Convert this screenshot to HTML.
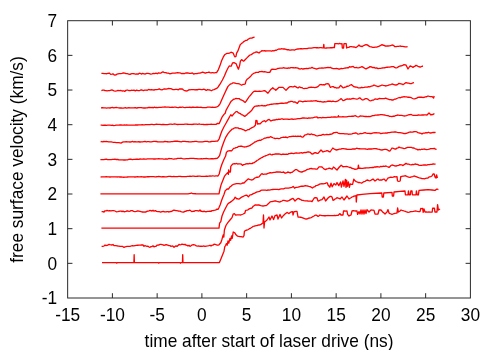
<!DOCTYPE html>
<html><head><meta charset="utf-8"><title>plot</title>
<style>
html,body{margin:0;padding:0;background:#fff;}
svg{display:block;}
text{font-family:"Liberation Sans",sans-serif;font-size:17.3px;fill:#000;}
.c{fill:none;stroke:#ff0000;stroke-width:1.3;stroke-linejoin:round;stroke-linecap:butt;}
.a{fill:none;stroke:#2a2a2a;stroke-width:1;}
</style></head>
<body>
<svg width="500" height="350" viewBox="0 0 500 350">
<rect width="500" height="350" fill="#fff"/>
<path class="c" d="M102.00,262.60 L116.40,262.60 L116.80,263.20 L117.20,262.60 L133.90,262.60 L134.15,254.70 L134.40,262.60 L158.40,262.60 L158.80,263.20 L159.20,262.60 L180.00,262.60 L180.40,263.20 L180.80,262.60 L182.45,262.60 L182.70,254.70 L182.95,262.60 L219.40,262.60 L220.80,259.20 L222.40,255.20 L224.00,251.20 L224.80,246.60 L225.60,245.60 L226.40,243.60 L227.20,245.20 L228.00,240.80 L228.80,243.20 L230.00,238.40 L230.60,240.40 L231.60,236.00 L232.20,238.40 L233.20,232.00 L234.80,232.80 L236.00,234.80 L237.60,236.20 L238.80,236.41 L240.00,236.60 L241.07,236.69 L242.13,236.88 L243.20,237.00 L244.00,235.60 L244.40,231.20 L245.80,230.36 L247.20,230.00 L248.40,229.52 L249.60,228.60 L250.80,228.04 L252.00,227.20 L253.00,226.40 L254.00,226.23 L255.00,226.00 L256.00,225.68 L257.00,225.60 L258.00,225.18 L259.00,225.00 L260.00,224.82 L261.00,224.40 L262.00,223.57 L263.00,223.00 L263.50,215.00 L264.00,228.00 L264.60,222.00 L265.80,221.09 L267.00,220.00 L269.00,217.00 L270.00,220.00 L272.00,216.00 L273.60,219.60 L275.00,215.60 L276.00,215.27 L277.00,215.00 L278.00,219.00 L280.00,214.40 L281.60,218.00 L283.00,216.00 L285.00,214.00 L286.00,213.18 L287.00,212.40 L288.00,212.98 L289.00,213.60 L290.00,212.61 L291.00,212.00 L292.60,211.60 L293.00,215.00 L294.00,211.60 L295.00,211.70 L296.00,211.38 L297.00,211.40 L298.00,217.00 L299.33,217.09 L300.67,217.24 L302.00,217.60 L303.33,218.12 L304.67,218.66 L306.00,219.00 L307.33,218.88 L308.67,218.17 L310.00,218.00 L311.33,217.58 L312.67,216.70 L314.00,216.00 L315.00,215.42 L316.00,215.00 L317.00,215.61 L318.00,216.40 L319.00,215.86 L320.00,215.00 L321.00,215.47 L322.00,215.60 L323.14,215.60 L324.29,215.76 L325.43,215.74 L326.57,215.67 L327.71,215.52 L328.86,215.66 L330.00,215.60 L331.14,215.59 L332.29,215.57 L333.43,215.63 L334.57,215.37 L335.71,215.61 L336.86,215.43 L338.00,215.40 L340.00,213.60 L341.00,215.00 L342.00,215.01 L343.00,215.00 L343.50,211.00 L344.67,210.92 L345.83,211.21 L347.00,211.00 L347.60,214.40 L349.00,216.00 L350.00,215.40 L351.00,215.00 L352.00,211.00 L353.25,210.65 L354.50,210.91 L355.75,211.01 L357.00,211.00 L357.60,214.40 L359.00,211.60 L360.00,214.00 L361.00,210.00 L362.00,214.00 L363.00,210.00 L364.00,214.00 L365.00,210.00 L366.00,213.60 L367.00,209.60 L369.00,212.00 L371.00,210.00 L372.00,210.17 L373.00,210.21 L374.00,210.40 L375.00,214.00 L376.00,214.06 L377.00,214.06 L378.00,214.00 L379.00,210.00 L380.00,209.98 L381.00,210.00 L383.00,212.40 L384.00,213.06 L385.00,214.00 L387.00,212.00 L388.00,209.60 L389.00,213.00 L390.00,213.66 L391.00,213.98 L392.00,214.40 L393.00,214.01 L394.00,213.60 L395.00,213.29 L396.00,213.19 L397.00,213.00 L397.60,208.00 L398.40,212.00 L399.70,211.18 L401.00,210.00 L402.00,210.36 L403.00,210.69 L404.00,211.00 L405.33,211.43 L406.67,211.98 L408.00,212.40 L409.33,212.18 L410.67,211.69 L412.00,211.60 L413.33,211.43 L414.67,211.18 L416.00,211.00 L417.33,211.42 L418.67,211.61 L420.00,211.60 L420.80,208.40 L421.70,208.55 L422.60,208.40 L423.20,212.40 L424.00,209.00 L425.00,212.00 L426.33,212.01 L427.67,212.06 L429.00,212.00 L430.07,212.05 L431.13,212.15 L432.20,212.00 L432.60,208.20 L433.50,208.25 L434.40,208.20 L434.90,212.00 L435.95,211.96 L437.00,212.00 L437.60,204.60 L438.40,210.00 L440.00,209.00"/>
<path class="c" d="M101.60,246.40 L102.80,246.40 L104.00,246.00 L105.00,245.04 L106.00,245.60 L107.00,245.24 L108.00,245.03 L109.00,244.40 L110.00,244.70 L111.00,244.81 L112.00,245.00 L113.00,244.46 L114.00,245.57 L115.00,245.60 L116.00,245.68 L117.00,245.89 L118.00,246.00 L119.00,246.08 L120.00,246.34 L121.00,246.40 L122.33,246.32 L123.67,247.29 L125.00,247.00 L126.00,246.52 L127.00,246.37 L128.00,246.40 L129.00,246.31 L130.00,246.44 L131.00,246.00 L132.33,245.61 L133.67,245.82 L135.00,245.60 L136.33,245.43 L137.67,245.23 L139.00,245.20 L140.33,245.18 L141.67,244.91 L143.00,245.00 L144.00,246.32 L145.00,245.60 L146.00,246.00 L147.00,246.44 L148.00,246.22 L149.00,247.00 L150.00,247.31 L151.00,246.59 L152.00,246.60 L153.00,245.81 L154.00,246.82 L155.00,246.40 L156.00,246.32 L157.00,245.23 L158.00,245.20 L159.00,245.00 L160.00,244.40 L161.00,244.38 L162.00,244.56 L163.00,244.80 L164.00,245.40 L165.00,245.00 L166.33,244.64 L167.67,245.11 L169.00,245.60 L170.00,245.55 L171.00,246.38 L172.00,246.00 L173.00,246.24 L174.00,247.26 L175.00,246.40 L176.00,245.84 L177.00,246.43 L178.00,245.60 L179.00,244.39 L180.00,244.84 L181.00,244.60 L182.00,244.17 L183.00,244.40 L184.00,244.69 L185.00,244.28 L186.00,245.20 L187.00,245.25 L188.00,246.00 L189.00,245.31 L190.00,246.36 L191.00,245.80 L192.33,244.78 L193.67,244.56 L195.00,245.00 L196.33,245.84 L197.67,246.22 L199.00,246.00 L200.00,246.46 L201.00,246.04 L202.00,246.40 L203.00,246.14 L204.00,246.02 L205.00,246.40 L206.33,246.05 L207.67,245.94 L209.00,245.60 L210.00,245.25 L211.00,246.00 L212.00,245.21 L213.00,245.20 L214.00,244.16 L215.00,244.40 L216.00,244.72 L217.00,245.00 L218.00,245.06 L219.00,244.80 L220.80,242.80 L222.00,239.20 L223.20,234.80 L223.80,237.20 L224.40,230.00 L225.40,227.00 L226.20,225.00 L228.00,222.40 L230.00,220.00 L232.00,217.60 L233.20,214.00 L234.40,213.60 L235.60,215.20 L237.00,214.84 L238.40,214.80 L239.60,214.88 L240.80,215.00 L242.00,214.51 L243.20,214.00 L244.80,213.20 L245.60,210.40 L246.80,210.18 L248.00,209.80 L249.20,208.89 L250.40,208.40 L252.00,208.00 L253.00,206.40 L254.00,205.72 L255.00,205.00 L256.00,204.93 L257.00,205.20 L258.00,204.94 L259.00,205.00 L260.00,205.26 L261.00,205.60 L262.00,205.82 L263.00,206.00 L264.00,205.84 L265.00,205.60 L266.00,205.56 L267.00,205.00 L268.50,203.60 L270.00,202.00 L271.00,201.63 L272.00,201.69 L273.00,201.40 L274.00,201.15 L275.00,200.91 L276.00,201.00 L277.00,201.39 L278.00,201.60 L279.00,201.94 L280.00,202.00 L281.00,201.30 L282.00,201.00 L283.00,200.41 L284.00,200.40 L285.00,200.54 L286.00,200.80 L287.00,201.22 L288.00,201.00 L289.25,200.41 L290.50,199.60 L291.75,198.85 L293.00,198.40 L295.00,201.00 L296.50,199.60 L298.00,198.40 L299.00,198.59 L300.00,199.40 L301.00,199.73 L302.00,200.40 L303.00,200.42 L304.00,200.71 L305.00,200.80 L306.00,200.89 L307.00,200.87 L308.00,201.00 L309.00,201.06 L310.00,201.20 L311.00,201.19 L312.00,201.60 L314.20,198.00 L315.60,197.72 L317.00,198.00 L318.00,201.00 L319.00,200.82 L320.00,200.20 L321.00,199.83 L322.00,199.60 L324.00,197.00 L325.60,201.00 L328.00,198.00 L329.00,197.14 L330.00,196.40 L331.00,196.38 L332.00,197.00 L333.00,200.40 L334.00,199.89 L335.00,199.00 L336.00,198.54 L337.00,197.60 L338.00,198.21 L339.00,198.28 L340.00,199.00 L342.00,197.00 L344.00,200.00 L347.00,196.00 L349.00,199.00 L350.00,198.25 L351.00,197.72 L352.00,197.00 L353.00,196.64 L354.00,196.18 L355.00,196.00 L356.00,195.60 L356.30,202.00 L356.90,195.00 L362.00,194.40 L370.00,193.60 L381.80,193.00 L382.20,197.00 L383.40,197.00 L383.80,193.00 L392.00,192.40 L392.30,196.00 L393.60,196.00 L394.00,192.00 L400.00,191.40 L405.00,191.00 L405.40,194.80 L408.00,194.80 L408.40,191.00 L409.20,194.80 L410.40,194.80 L410.80,191.00 L412.00,190.90 L412.40,194.80 L416.00,194.80 L416.40,190.80 L417.20,194.80 L418.40,194.80 L419.00,190.40 L424.00,190.00 L428.00,189.60 L432.00,190.00 L435.00,190.40 L437.00,189.00 L438.40,189.60"/>
<path class="c" d="M101.40,228.10 L219.00,228.10 L219.60,223.20 L220.80,221.60 L222.00,216.00 L223.60,212.00 L225.60,208.00 L227.60,204.20 L228.80,203.09 L230.00,202.40 L231.10,201.60 L232.20,200.80 L233.10,199.96 L234.00,199.20 L235.20,197.20 L236.80,198.80 L237.80,198.76 L238.80,199.20 L240.20,198.15 L241.60,197.20 L242.80,196.61 L244.00,196.00 L245.40,195.47 L246.80,195.20 L248.40,196.80 L250.00,194.80 L251.00,194.82 L252.00,194.40 L253.33,193.64 L254.67,193.10 L256.00,192.40 L257.20,191.90 L258.40,191.71 L259.60,191.37 L260.80,190.44 L262.00,190.20 L263.20,190.21 L264.40,190.09 L265.60,190.12 L266.80,190.31 L268.00,190.00 L269.20,190.03 L270.40,189.82 L271.60,189.63 L272.80,189.52 L274.00,189.40 L275.20,189.32 L276.40,189.35 L277.60,189.31 L278.80,189.71 L280.00,189.20 L281.20,188.87 L282.40,188.91 L283.60,188.97 L284.80,188.17 L286.00,188.20 L287.20,188.04 L288.40,188.13 L289.60,187.87 L290.80,187.60 L292.00,187.35 L293.20,186.40 L294.60,188.20 L295.70,187.44 L296.80,187.40 L298.00,187.21 L299.20,186.80 L300.40,186.38 L301.60,186.20 L302.80,186.24 L304.00,186.07 L305.20,185.60 L306.40,185.95 L307.60,186.00 L308.80,186.44 L310.00,186.60 L311.20,187.18 L312.40,188.00 L313.60,187.03 L314.80,186.66 L316.00,185.60 L317.20,185.31 L318.40,184.91 L319.60,184.16 L320.80,183.80 L322.00,183.77 L323.20,183.88 L324.40,183.60 L325.40,183.42 L326.40,182.80 L327.40,182.80 L328.00,185.00 L329.80,187.20 L331.00,183.20 L332.20,186.80 L334.00,183.60 L334.90,184.30 L335.80,185.00 L337.00,182.60 L338.80,185.60 L340.60,182.00 L341.40,187.20 L343.00,180.80 L344.00,186.40 L345.40,179.40 L346.00,187.40 L346.60,180.20 L347.40,186.40 L348.40,182.00 L349.40,187.40 L350.20,183.80 L351.40,184.32 L352.60,184.40 L353.80,179.20 L355.00,180.80 L356.20,181.60 L357.20,181.96 L358.20,182.48 L359.20,182.40 L360.40,182.75 L361.60,183.20 L362.80,182.25 L364.00,181.60 L365.20,181.37 L366.40,180.31 L367.60,180.00 L368.80,180.57 L370.00,180.80 L371.00,180.21 L372.00,179.61 L373.00,179.00 L375.00,181.00 L376.00,180.27 L377.00,179.43 L378.00,179.00 L379.33,180.17 L380.67,179.93 L382.00,180.00 L383.00,179.39 L384.00,179.00 L386.00,181.00 L388.00,178.00 L389.33,177.68 L390.67,177.20 L392.00,177.40 L393.25,177.19 L394.50,176.66 L395.75,176.84 L397.00,176.60 L397.50,181.00 L398.85,181.39 L400.20,181.00 L400.70,176.60 L401.76,176.50 L402.82,176.17 L403.88,176.15 L404.94,175.74 L406.00,176.00 L407.33,176.70 L408.67,177.11 L410.00,177.40 L411.33,176.87 L412.67,176.56 L414.00,176.00 L415.33,176.29 L416.67,176.86 L418.00,177.40 L419.33,177.78 L420.67,178.03 L422.00,178.60 L423.20,178.67 L424.40,178.81 L425.60,178.40 L426.80,178.15 L428.00,178.00 L429.33,176.86 L430.67,176.53 L432.00,176.00 L433.00,174.00 L434.20,174.00 L435.00,177.00 L436.00,178.00 L436.60,175.00 L437.40,178.00"/>
<path class="c" d="M101.60,211.60 L102.80,211.69 L104.00,212.00 L105.00,210.78 L106.00,210.95 L107.00,210.40 L108.33,210.88 L109.67,210.66 L111.00,210.80 L112.33,210.60 L113.67,210.53 L115.00,211.00 L116.33,211.79 L117.67,211.62 L119.00,211.40 L120.00,211.22 L121.00,211.02 L122.00,211.60 L123.00,211.08 L124.00,211.83 L125.00,211.60 L126.00,211.42 L127.00,210.93 L128.00,211.00 L129.00,211.48 L130.00,211.06 L131.00,210.60 L132.33,210.66 L133.67,211.29 L135.00,211.60 L136.33,211.41 L137.67,210.96 L139.00,211.20 L140.00,211.38 L141.00,211.65 L142.00,212.00 L143.00,211.86 L144.00,212.05 L145.00,212.00 L146.00,212.01 L147.00,211.27 L148.00,211.20 L149.00,210.83 L150.00,210.42 L151.00,210.60 L152.00,211.05 L153.00,210.27 L154.00,211.20 L155.33,210.69 L156.67,211.44 L158.00,211.60 L159.33,211.68 L160.67,212.03 L162.00,211.60 L163.33,211.44 L164.67,211.96 L166.00,211.80 L167.00,211.56 L168.00,211.73 L169.00,212.00 L170.00,211.57 L171.00,211.52 L172.00,211.20 L173.00,210.43 L174.00,210.21 L175.00,210.40 L176.00,210.70 L177.00,210.64 L178.00,211.00 L179.00,211.18 L180.00,211.17 L181.00,211.60 L182.00,211.96 L183.00,212.17 L184.00,212.00 L185.00,211.25 L186.00,211.31 L187.00,210.60 L188.00,210.64 L189.00,210.49 L190.00,210.20 L191.00,211.00 L192.00,211.60 L193.00,211.24 L194.00,211.40 L195.00,210.72 L196.00,210.60 L197.00,210.56 L198.00,210.79 L199.00,211.00 L200.00,209.92 L201.00,211.24 L202.00,211.20 L203.00,211.76 L204.00,211.14 L205.00,211.60 L206.33,211.74 L207.67,211.39 L209.00,211.40 L210.00,211.10 L211.00,211.44 L212.00,210.60 L213.00,210.58 L214.00,210.29 L215.00,210.20 L216.00,209.87 L217.00,209.10 L218.00,209.40 L218.80,208.00 L220.20,204.80 L221.40,201.00 L222.80,197.20 L224.00,194.40 L225.20,190.80 L226.40,189.60 L227.40,188.87 L228.40,189.20 L230.00,186.80 L231.00,186.29 L232.00,185.20 L233.20,184.44 L234.40,184.20 L235.47,183.78 L236.53,183.66 L237.60,183.60 L238.93,183.59 L240.27,183.80 L241.60,183.60 L242.80,182.93 L244.00,183.00 L246.20,180.80 L248.40,178.80 L249.40,179.28 L250.40,179.60 L252.00,180.00 L253.40,179.31 L254.80,178.00 L255.85,177.59 L256.90,177.07 L257.95,177.25 L259.00,176.80 L261.40,173.80 L262.30,173.70 L263.20,174.40 L264.40,174.12 L265.60,174.20 L266.80,173.99 L268.00,173.38 L269.20,173.00 L270.40,172.73 L271.60,172.83 L272.80,172.57 L274.00,172.40 L275.20,172.38 L276.40,171.99 L277.60,172.00 L278.80,172.02 L280.00,171.80 L281.20,172.29 L282.40,172.33 L283.60,172.00 L284.80,173.10 L286.00,173.00 L286.90,172.70 L287.80,172.00 L289.00,172.34 L290.20,173.00 L291.20,172.41 L292.20,172.39 L293.20,171.40 L294.40,170.55 L295.60,169.60 L296.80,169.69 L298.00,170.60 L299.20,171.41 L300.40,171.90 L301.60,172.00 L302.80,171.74 L304.00,170.99 L305.20,170.80 L306.40,169.91 L307.60,169.35 L308.80,169.17 L310.00,168.60 L311.20,168.50 L312.40,168.76 L313.60,168.92 L314.80,168.80 L316.00,169.18 L317.20,169.20 L319.00,166.80 L320.00,166.86 L321.00,166.89 L322.00,167.00 L323.20,168.15 L324.40,169.14 L325.60,169.60 L326.80,168.86 L328.00,168.61 L329.20,168.20 L330.20,168.44 L331.20,168.79 L332.20,169.20 L333.40,167.00 L334.60,167.80 L335.80,169.08 L337.00,170.00 L339.40,167.00 L341.20,165.20 L342.10,165.95 L343.00,166.80 L344.08,166.59 L345.16,166.61 L346.24,166.51 L347.32,166.57 L348.40,167.00 L349.60,167.50 L350.80,167.42 L352.00,168.40 L353.00,168.51 L354.00,168.90 L355.00,169.40 L356.00,169.09 L357.00,169.08 L358.00,168.40 L358.40,165.20 L358.90,168.40 L360.17,168.24 L361.45,168.43 L362.73,168.41 L364.00,168.20 L365.20,168.01 L366.40,167.96 L367.60,167.86 L368.80,167.82 L370.00,167.60 L371.20,167.55 L372.40,167.42 L373.60,167.50 L374.80,166.79 L376.00,167.00 L377.20,166.72 L378.40,166.84 L379.60,167.04 L380.80,166.43 L382.00,166.60 L383.33,166.21 L384.67,166.28 L386.00,166.00 L387.00,166.50 L388.00,166.93 L389.00,167.40 L390.00,166.48 L391.00,165.54 L392.00,165.00 L393.33,165.28 L394.67,165.93 L396.00,166.00 L397.33,165.65 L398.67,165.39 L400.00,164.60 L401.00,164.78 L402.00,164.97 L403.00,165.60 L404.00,164.82 L405.00,164.10 L406.00,163.40 L407.33,164.17 L408.67,164.22 L410.00,164.60 L411.25,164.78 L412.50,164.29 L413.75,164.59 L415.00,164.00 L416.25,164.24 L417.50,164.43 L418.75,165.17 L420.00,165.40 L421.33,165.32 L422.67,165.12 L424.00,165.00 L425.33,164.96 L426.67,165.13 L428.00,164.60 L429.33,164.64 L430.67,164.45 L432.00,164.40 L433.20,163.82 L434.40,164.09 L435.60,164.20"/>
<path class="c" d="M100.40,193.85 L188.00,193.85 L190.60,193.45 L191.40,192.95 L192.40,193.55 L196.00,193.75 L219.00,193.85 L220.00,189.00 L221.20,184.40 L222.80,180.40 L224.40,176.40 L226.00,174.40 L227.60,172.80 L228.40,174.40 L228.60,170.00 L229.20,172.00 L230.40,172.00 L230.80,166.40 L232.00,164.80 L233.20,163.77 L234.40,163.60 L235.47,163.78 L236.53,163.47 L237.60,164.00 L238.80,163.80 L240.00,163.80 L241.20,164.02 L242.40,165.40 L243.60,164.61 L244.80,164.40 L246.00,163.82 L247.20,163.60 L248.40,163.83 L249.60,163.34 L250.80,163.62 L252.00,163.60 L253.00,162.90 L254.00,162.86 L255.00,162.00 L256.00,161.44 L257.00,160.39 L258.00,160.00 L259.00,159.28 L260.00,158.64 L261.00,158.00 L262.33,157.36 L263.67,156.49 L265.00,156.00 L266.00,155.72 L267.00,155.28 L268.00,154.80 L269.00,154.37 L270.00,154.00 L271.00,154.60 L272.00,155.00 L273.00,154.27 L274.00,154.40 L275.00,154.00 L276.25,153.88 L277.50,153.99 L278.75,153.91 L280.00,154.20 L281.25,154.55 L282.50,154.24 L283.75,154.11 L285.00,154.40 L286.25,154.15 L287.50,154.46 L288.75,153.60 L290.00,153.60 L291.25,153.17 L292.50,153.36 L293.75,153.57 L295.00,153.20 L296.25,152.98 L297.50,153.15 L298.75,153.15 L300.00,153.00 L301.25,152.60 L302.50,153.08 L303.75,152.54 L305.00,152.40 L306.00,152.54 L307.00,152.16 L308.00,152.00 L309.00,152.02 L310.00,152.20 L312.00,154.00 L313.00,153.88 L314.00,153.12 L315.00,152.60 L316.00,152.75 L317.00,153.35 L318.00,153.40 L321.00,150.00 L323.00,152.00 L324.33,151.42 L325.67,151.21 L327.00,150.60 L328.00,150.82 L329.00,151.68 L330.00,152.00 L332.80,148.00 L333.87,148.87 L334.93,149.28 L336.00,150.00 L337.20,149.74 L338.40,149.49 L339.60,149.21 L340.80,149.06 L342.00,148.60 L343.33,148.60 L344.67,148.93 L346.00,149.00 L347.33,149.30 L348.67,149.29 L350.00,149.40 L351.33,149.43 L352.67,148.98 L354.00,149.00 L355.33,149.02 L356.67,148.23 L358.00,148.60 L359.33,148.73 L360.67,148.94 L362.00,148.80 L363.33,148.91 L364.67,148.94 L366.00,149.00 L367.33,149.47 L368.67,148.91 L370.00,149.00 L371.33,148.98 L372.67,148.82 L374.00,148.60 L375.33,148.70 L376.67,148.76 L378.00,149.20 L379.33,149.29 L380.67,149.92 L382.00,150.00 L383.33,149.72 L384.67,149.47 L386.00,149.40 L387.33,149.79 L388.67,150.84 L390.00,151.00 L392.00,148.00 L393.33,148.45 L394.67,149.01 L396.00,149.00 L397.00,148.05 L398.00,147.93 L399.00,147.00 L400.25,147.63 L401.50,147.86 L402.75,148.21 L404.00,148.60 L405.20,148.32 L406.40,147.83 L407.60,147.43 L408.80,147.31 L410.00,147.40 L411.33,147.40 L412.67,148.00 L414.00,148.00 L415.33,148.77 L416.67,149.13 L418.00,150.00 L419.20,149.43 L420.40,149.77 L421.60,149.26 L422.80,149.47 L424.00,149.00 L425.33,149.27 L426.67,149.55 L428.00,149.40 L429.33,149.21 L430.67,148.71 L432.00,148.60 L433.15,148.70 L434.30,148.41 L435.45,149.12 L436.60,149.40"/>
<path class="c" d="M100.60,177.00 L101.70,176.96 L102.80,176.79 L103.90,176.83 L105.00,176.80 L106.25,176.65 L107.50,176.85 L108.75,176.95 L110.00,177.00 L111.25,176.93 L112.50,176.96 L113.75,176.91 L115.00,176.80 L116.25,176.83 L117.50,176.98 L118.75,176.78 L120.00,177.00 L121.25,176.98 L122.50,177.03 L123.75,177.24 L125.00,177.20 L126.25,177.12 L127.50,177.01 L128.75,176.94 L130.00,176.80 L131.25,176.81 L132.50,176.85 L133.75,176.89 L135.00,177.00 L136.25,176.97 L137.50,176.68 L138.75,176.90 L140.00,176.80 L141.25,176.73 L142.50,176.88 L143.75,176.98 L145.00,177.00 L146.25,176.87 L147.50,176.67 L148.75,176.76 L150.00,176.60 L151.25,176.54 L152.50,176.67 L153.75,176.72 L155.00,176.80 L156.25,176.75 L157.50,176.65 L158.75,176.50 L160.00,176.60 L161.25,176.82 L162.50,176.74 L163.75,176.66 L165.00,176.80 L166.25,176.78 L167.50,176.54 L168.75,176.30 L170.00,176.40 L171.25,176.51 L172.50,176.58 L173.75,176.44 L175.00,176.60 L176.25,176.54 L177.50,176.56 L178.75,176.37 L180.00,176.40 L181.25,176.50 L182.50,176.57 L183.75,176.53 L185.00,176.60 L186.25,176.56 L187.50,176.42 L188.75,176.31 L190.00,176.20 L191.25,176.36 L192.50,176.14 L193.75,176.12 L195.00,176.40 L196.25,176.42 L197.50,176.27 L198.75,176.21 L200.00,176.20 L201.25,176.28 L202.50,176.33 L203.75,176.32 L205.00,176.40 L206.25,176.15 L207.50,176.27 L208.75,176.11 L210.00,176.00 L211.17,176.08 L212.33,175.84 L213.50,175.96 L214.67,176.04 L215.83,175.89 L217.00,175.80 L218.00,176.00 L219.20,174.00 L220.40,168.80 L222.00,164.00 L224.00,159.20 L225.60,156.00 L226.40,152.40 L227.60,151.20 L228.80,150.82 L230.00,150.60 L231.60,150.80 L233.60,148.40 L234.80,148.12 L236.00,147.60 L237.20,147.46 L238.40,146.40 L239.47,146.37 L240.53,146.26 L241.60,146.20 L242.80,146.61 L244.00,147.00 L245.07,146.86 L246.13,146.83 L247.20,146.40 L248.40,146.01 L249.60,145.60 L250.00,145.60 L251.20,144.53 L252.40,143.84 L253.60,142.96 L254.80,142.00 L256.00,141.67 L257.20,140.98 L258.40,140.57 L259.60,140.20 L260.80,140.37 L262.00,139.38 L263.20,139.00 L264.40,138.19 L265.60,138.06 L266.80,137.60 L268.00,137.44 L269.20,137.52 L270.40,136.71 L271.60,137.20 L272.80,137.75 L274.00,138.13 L275.20,138.60 L276.40,138.28 L277.60,138.31 L278.80,138.60 L280.00,138.26 L281.20,137.61 L282.40,137.40 L283.60,137.14 L284.80,137.29 L286.00,137.00 L287.20,137.80 L288.40,137.00 L289.60,136.60 L290.80,136.51 L292.00,136.30 L293.20,136.21 L294.40,136.33 L295.60,136.10 L296.80,136.50 L298.00,136.20 L299.20,136.37 L300.40,136.01 L301.60,136.86 L302.80,137.20 L305.20,134.80 L306.40,134.54 L307.60,134.00 L308.80,134.07 L310.00,134.60 L311.20,133.96 L312.40,134.49 L313.60,134.60 L314.80,134.98 L316.00,135.62 L317.20,136.00 L318.40,135.65 L319.60,135.46 L320.80,135.37 L322.00,134.80 L323.20,134.33 L324.40,134.78 L325.60,134.72 L326.80,134.31 L328.00,134.60 L329.20,134.50 L330.40,134.23 L331.60,134.20 L332.80,133.36 L334.00,132.60 L335.00,132.70 L336.00,132.35 L337.00,132.40 L338.00,133.01 L339.00,133.26 L340.00,133.60 L341.20,133.56 L342.40,133.71 L343.60,133.61 L344.80,133.87 L346.00,133.80 L347.20,133.85 L348.40,134.25 L349.60,134.20 L350.80,134.03 L352.00,133.84 L353.20,133.40 L354.20,133.27 L355.20,132.99 L356.20,133.00 L357.10,133.53 L358.00,134.20 L359.20,133.97 L360.40,133.51 L361.60,133.60 L362.80,133.28 L364.00,132.91 L365.20,132.60 L366.40,133.02 L367.60,133.40 L368.80,133.41 L370.00,133.50 L371.20,133.57 L372.40,133.07 L373.60,132.88 L374.80,132.77 L376.00,132.60 L377.20,132.84 L378.40,132.91 L379.60,132.95 L380.80,133.62 L382.00,133.40 L383.33,133.14 L384.67,133.07 L386.00,133.00 L387.00,133.14 L388.00,132.60 L389.33,132.70 L390.67,132.41 L392.00,132.20 L393.33,132.16 L394.67,131.82 L396.00,132.00 L397.33,132.39 L398.67,132.65 L400.00,132.60 L401.33,132.83 L402.67,133.15 L404.00,133.60 L405.20,133.52 L406.40,133.26 L407.60,132.96 L408.80,132.38 L410.00,132.00 L411.20,132.07 L412.40,132.16 L413.60,131.76 L414.80,131.53 L416.00,131.60 L417.00,131.99 L418.00,132.64 L419.00,133.00 L420.00,133.10 L421.00,133.39 L422.00,134.00 L423.33,133.04 L424.67,133.18 L426.00,132.60 L427.20,132.79 L428.40,132.27 L429.60,132.82 L430.80,133.01 L432.00,132.60 L433.20,132.43 L434.40,132.51 L435.60,132.40"/>
<path class="c" d="M100.40,159.60 L101.55,159.55 L102.70,159.55 L103.85,159.61 L105.00,159.40 L106.25,159.22 L107.50,159.71 L108.75,159.62 L110.00,159.60 L111.25,159.57 L112.50,159.35 L113.75,159.37 L115.00,159.20 L116.25,159.52 L117.50,159.48 L118.75,159.75 L120.00,159.80 L121.25,159.86 L122.50,159.97 L123.75,160.01 L125.00,160.00 L126.25,159.88 L127.50,159.81 L128.75,159.49 L130.00,159.20 L131.25,159.27 L132.50,159.61 L133.75,159.47 L135.00,159.40 L136.25,159.25 L137.50,159.26 L138.75,159.33 L140.00,159.00 L141.25,159.14 L142.50,159.22 L143.75,158.94 L145.00,159.20 L146.25,159.20 L147.50,158.94 L148.75,158.94 L150.00,158.80 L151.25,158.96 L152.50,158.97 L153.75,159.01 L155.00,159.00 L156.25,158.91 L157.50,158.92 L158.75,158.53 L160.00,158.80 L161.25,158.95 L162.50,158.86 L163.75,159.07 L165.00,159.00 L166.25,158.87 L167.50,159.11 L168.75,158.46 L170.00,158.60 L171.25,158.61 L172.50,158.88 L173.75,159.08 L175.00,158.80 L176.25,158.80 L177.50,158.39 L178.75,158.31 L180.00,158.40 L181.25,158.24 L182.50,158.68 L183.75,158.92 L185.00,158.80 L186.25,158.63 L187.50,158.59 L188.75,158.63 L190.00,158.40 L191.25,158.47 L192.50,158.44 L193.75,158.37 L195.00,158.60 L196.25,158.66 L197.50,158.74 L198.75,158.79 L200.00,158.80 L201.25,158.62 L202.50,158.81 L203.75,158.56 L205.00,158.60 L206.25,158.48 L207.50,158.56 L208.75,158.90 L210.00,158.80 L211.17,158.75 L212.33,158.76 L213.50,158.77 L214.67,158.62 L215.83,158.48 L217.00,158.40 L218.40,157.20 L219.60,155.60 L220.80,151.20 L222.00,147.00 L223.80,142.00 L225.00,139.00 L226.00,136.80 L228.00,133.60 L230.00,131.20 L232.00,129.20 L233.00,128.90 L234.00,128.20 L235.40,127.75 L236.80,127.80 L238.00,127.89 L239.20,128.60 L240.60,128.69 L242.00,129.20 L243.07,129.72 L244.13,129.94 L245.20,130.80 L246.60,130.28 L248.00,129.60 L249.00,129.69 L250.00,128.80 L251.20,128.05 L252.40,127.43 L253.60,127.00 L255.40,125.20 L255.90,120.40 L257.00,120.60 L257.40,124.00 L258.80,123.76 L260.20,123.80 L262.60,121.40 L263.50,121.05 L264.40,120.60 L265.60,121.80 L266.80,120.84 L268.00,119.80 L269.20,119.40 L270.10,120.17 L271.00,121.00 L272.00,120.49 L273.00,120.25 L274.00,119.80 L275.20,120.00 L276.40,119.32 L277.60,119.64 L278.80,119.20 L280.00,119.48 L281.20,118.95 L282.40,118.92 L283.60,119.44 L284.80,119.11 L286.00,119.20 L287.20,119.12 L288.40,119.24 L289.60,119.31 L290.80,119.08 L292.00,119.00 L293.20,119.33 L294.40,119.10 L295.60,119.08 L296.80,118.78 L298.00,118.60 L299.20,118.61 L300.40,118.48 L301.60,118.25 L302.80,117.98 L304.00,118.00 L305.20,118.18 L306.40,118.11 L307.60,118.38 L308.80,117.89 L310.00,118.20 L311.33,117.98 L312.67,117.78 L314.00,117.40 L315.00,117.06 L316.00,117.11 L317.00,117.00 L318.00,118.00 L319.20,117.62 L320.40,117.60 L321.60,117.80 L322.80,117.48 L324.00,117.60 L325.20,117.61 L326.40,117.57 L327.60,117.47 L328.80,117.46 L330.00,117.40 L331.33,117.02 L332.67,117.10 L334.00,117.00 L335.33,116.93 L336.67,117.12 L338.00,116.80 L338.40,115.70 L338.80,116.90 L339.84,116.78 L340.88,116.94 L341.92,116.94 L342.96,116.71 L344.00,116.80 L345.20,116.97 L346.40,116.81 L347.60,116.54 L348.80,116.43 L350.00,116.40 L351.00,116.41 L352.00,116.20 L353.20,116.26 L354.40,115.87 L355.60,115.70 L356.80,116.52 L358.00,117.00 L359.20,116.54 L360.40,115.90 L361.60,116.10 L362.80,116.06 L364.00,116.40 L365.20,116.49 L366.40,116.36 L367.60,116.55 L368.80,116.46 L370.00,116.60 L371.33,116.16 L372.67,115.71 L374.00,115.60 L375.33,115.15 L376.67,115.22 L378.00,115.00 L379.33,114.84 L380.67,114.59 L382.00,114.60 L383.33,114.83 L384.67,115.00 L386.00,115.40 L387.20,115.69 L388.40,115.77 L389.60,116.31 L390.80,116.32 L392.00,116.60 L393.20,116.19 L394.40,116.25 L395.60,115.68 L396.80,115.34 L398.00,115.00 L399.20,115.35 L400.40,115.31 L401.60,115.33 L402.80,115.61 L404.00,116.00 L405.20,115.80 L406.40,115.61 L407.60,115.22 L408.80,114.75 L410.00,114.60 L411.20,114.50 L412.40,115.04 L413.60,115.33 L414.80,115.29 L416.00,115.40 L417.20,115.37 L418.40,114.86 L419.60,115.19 L420.80,115.05 L422.00,115.00 L423.25,114.99 L424.50,114.82 L425.75,114.85 L427.00,115.00 L429.00,113.00 L431.00,115.00 L432.00,114.44 L433.00,114.60 L434.40,113.40"/>
<path class="c" d="M100.60,142.00 L101.70,141.50 L102.80,141.91 L103.90,141.41 L105.00,141.60 L106.25,141.52 L107.50,141.60 L108.75,141.97 L110.00,141.80 L111.25,141.79 L112.50,142.08 L113.75,142.34 L115.00,142.40 L116.25,142.61 L117.50,142.56 L118.75,142.62 L120.00,142.80 L121.25,143.03 L122.50,142.11 L123.75,141.90 L125.00,141.80 L126.25,141.70 L127.50,141.95 L128.75,141.96 L130.00,142.00 L131.25,141.85 L132.50,141.35 L133.75,141.98 L135.00,141.60 L136.25,141.84 L137.50,141.91 L138.75,141.75 L140.00,142.00 L141.25,141.84 L142.50,141.80 L143.75,141.57 L145.00,141.40 L146.25,141.86 L147.50,141.71 L148.75,141.63 L150.00,141.80 L151.25,141.90 L152.50,141.62 L153.75,141.39 L155.00,141.40 L156.25,141.48 L157.50,141.75 L158.75,141.94 L160.00,141.80 L161.25,141.95 L162.50,141.81 L163.75,141.75 L165.00,141.40 L166.25,141.57 L167.50,141.76 L168.75,141.93 L170.00,141.80 L171.25,141.61 L172.50,141.56 L173.75,141.34 L175.00,141.20 L176.25,141.24 L177.50,141.14 L178.75,141.50 L180.00,141.60 L181.25,141.77 L182.50,141.43 L183.75,141.33 L185.00,141.40 L186.25,141.53 L187.50,141.58 L188.75,141.73 L190.00,141.80 L191.25,141.84 L192.50,141.53 L193.75,141.67 L195.00,141.40 L196.25,141.39 L197.50,141.60 L198.75,141.78 L200.00,141.80 L201.25,141.79 L202.50,141.80 L203.75,141.57 L205.00,141.40 L206.25,141.42 L207.50,141.42 L208.75,141.86 L210.00,141.80 L211.20,141.50 L212.40,141.47 L213.60,141.47 L214.80,141.29 L216.00,141.20 L217.60,141.20 L219.20,138.80 L220.80,134.00 L222.00,130.80 L224.00,126.80 L226.00,123.20 L228.00,119.60 L230.00,116.00 L230.80,114.80 L232.00,116.00 L234.00,113.60 L236.00,111.60 L237.07,111.58 L238.13,112.60 L239.20,113.20 L240.27,113.55 L241.33,114.56 L242.40,114.80 L243.60,115.66 L244.80,116.40 L246.00,115.37 L247.20,114.40 L248.40,113.18 L249.60,112.40 L250.00,112.00 L251.80,110.20 L253.60,107.40 L254.80,106.35 L256.00,106.00 L257.20,106.09 L258.40,105.55 L259.60,105.79 L260.80,105.65 L262.00,105.40 L263.20,105.92 L264.40,105.69 L265.60,105.80 L266.80,105.23 L268.00,104.80 L269.20,104.74 L270.40,104.44 L271.60,104.25 L272.80,104.06 L274.00,103.80 L275.20,103.80 L276.40,103.67 L277.60,103.76 L278.80,103.56 L280.00,103.40 L281.20,103.23 L282.40,103.27 L283.60,103.32 L284.80,103.13 L286.00,103.00 L287.20,103.01 L288.40,101.98 L289.60,101.89 L290.80,101.40 L292.00,101.28 L293.20,102.06 L294.40,101.80 L295.40,102.11 L296.40,102.96 L297.40,103.40 L299.00,101.20 L300.27,101.10 L301.53,101.47 L302.80,101.80 L304.00,101.41 L305.20,101.13 L306.40,101.40 L307.60,101.13 L308.80,101.16 L310.00,101.20 L311.20,100.91 L312.40,101.17 L313.60,100.85 L314.80,100.84 L316.00,100.60 L317.20,101.24 L318.40,101.40 L319.60,101.63 L320.80,101.51 L322.00,101.80 L323.20,102.14 L324.40,101.56 L325.60,101.80 L326.80,101.67 L328.00,101.03 L329.20,101.24 L330.40,101.20 L331.60,101.54 L332.80,101.11 L334.00,101.40 L335.20,101.64 L336.40,101.49 L337.60,101.20 L338.80,100.32 L340.00,99.56 L341.20,98.60 L343.00,100.60 L344.00,100.32 L345.00,99.84 L346.00,99.40 L347.20,98.96 L348.40,99.21 L349.60,98.94 L350.80,99.23 L352.00,98.60 L353.20,98.31 L354.40,98.64 L355.60,98.91 L356.80,99.08 L358.00,98.80 L358.90,98.21 L359.80,97.80 L360.80,98.74 L361.80,99.57 L362.80,100.00 L363.80,99.58 L364.80,98.97 L365.80,98.60 L366.70,98.54 L367.60,99.00 L368.80,100.03 L370.00,100.80 L371.20,100.61 L372.40,100.20 L373.60,100.13 L374.80,99.10 L376.00,99.00 L377.20,99.39 L378.40,98.80 L379.60,98.40 L380.80,98.53 L382.00,98.60 L383.20,98.59 L384.40,98.58 L385.60,98.22 L386.80,98.72 L388.00,99.00 L389.33,99.63 L390.67,99.69 L392.00,100.00 L393.20,100.00 L394.40,99.20 L395.60,99.15 L396.80,98.49 L398.00,98.00 L399.20,97.52 L400.40,97.74 L401.60,97.18 L402.80,97.00 L404.00,96.60 L405.20,96.96 L406.40,96.97 L407.60,97.23 L408.80,97.15 L410.00,97.40 L411.33,97.70 L412.67,98.50 L414.00,99.00 L415.33,98.52 L416.67,98.16 L418.00,97.40 L419.20,97.26 L420.40,97.26 L421.60,97.04 L422.80,97.52 L424.00,97.40 L425.33,96.90 L426.67,96.76 L428.00,96.00 L429.33,96.39 L430.67,96.59 L432.00,96.60 L433.60,98.00 L434.20,96.00"/>
<path class="c" d="M100.60,125.20 L101.77,125.17 L102.95,125.38 L104.12,125.10 L105.30,125.25 L106.47,125.39 L107.65,125.16 L108.83,125.20 L110.00,125.20 L111.25,125.31 L112.50,125.19 L113.75,125.53 L115.00,125.40 L116.25,125.11 L117.50,125.16 L118.75,125.11 L120.00,125.00 L121.11,125.02 L122.22,125.06 L123.33,125.06 L124.44,125.01 L125.56,125.17 L126.67,124.82 L127.78,125.21 L128.89,125.14 L130.00,125.20 L131.25,125.17 L132.50,125.20 L133.75,125.03 L135.00,125.00 L136.25,124.92 L137.50,125.02 L138.75,124.92 L140.00,124.80 L141.11,124.82 L142.22,124.57 L143.33,124.83 L144.44,124.83 L145.56,124.67 L146.67,124.66 L147.78,124.56 L148.89,124.72 L150.00,124.60 L151.11,124.40 L152.22,124.37 L153.33,124.62 L154.44,124.59 L155.56,124.40 L156.67,124.22 L157.78,124.33 L158.89,124.41 L160.00,124.40 L161.25,124.53 L162.50,124.52 L163.75,124.52 L165.00,124.60 L166.25,124.66 L167.50,124.54 L168.75,124.34 L170.00,124.20 L171.11,124.18 L172.22,124.37 L173.33,124.21 L174.44,124.01 L175.56,124.11 L176.67,124.29 L177.78,124.51 L178.89,124.39 L180.00,124.40 L181.25,124.34 L182.50,124.34 L183.75,124.37 L185.00,124.20 L186.25,124.17 L187.50,124.26 L188.75,124.39 L190.00,124.40 L191.11,124.38 L192.22,124.48 L193.33,124.24 L194.44,124.15 L195.56,124.20 L196.67,124.21 L197.78,124.37 L198.89,124.00 L200.00,124.20 L201.25,124.28 L202.50,124.47 L203.75,124.48 L205.00,124.60 L206.25,124.47 L207.50,124.51 L208.75,124.37 L210.00,124.40 L211.20,124.25 L212.40,124.35 L213.60,124.40 L214.80,124.39 L216.00,124.40 L217.60,123.40 L219.20,123.60 L220.00,121.80 L222.00,117.20 L224.00,114.40 L225.20,113.20 L226.00,110.40 L228.00,106.80 L230.00,103.20 L231.20,101.20 L232.40,100.31 L233.60,99.20 L234.80,99.03 L236.00,98.40 L237.07,98.70 L238.13,98.66 L239.20,98.60 L240.40,99.69 L241.60,100.00 L242.80,100.58 L244.00,101.60 L245.20,102.40 L246.20,101.20 L247.20,99.60 L249.60,96.00 L250.00,95.80 L252.40,92.80 L253.60,91.60 L254.80,91.20 L255.87,91.23 L256.93,91.32 L258.00,91.30 L259.33,91.12 L260.67,91.36 L262.00,91.20 L263.20,90.98 L264.40,90.60 L265.60,91.18 L266.80,92.17 L268.00,93.20 L271.00,89.20 L271.90,88.69 L272.80,87.80 L273.80,88.91 L274.80,89.18 L275.80,90.20 L278.80,87.40 L279.85,87.29 L280.90,87.28 L281.95,87.39 L283.00,87.40 L286.00,90.40 L288.40,87.80 L289.40,86.92 L290.40,86.67 L291.40,86.60 L292.45,86.82 L293.50,86.86 L294.55,86.23 L295.60,86.60 L296.80,87.40 L298.00,88.00 L298.90,87.15 L299.80,87.00 L300.85,87.57 L301.90,87.62 L302.95,88.25 L304.00,88.60 L305.20,88.33 L306.40,88.35 L307.60,88.04 L308.80,87.52 L310.00,87.40 L311.20,87.17 L312.40,87.33 L313.60,87.35 L314.80,87.53 L316.00,87.26 L317.20,87.00 L318.20,86.40 L319.20,85.33 L320.20,84.60 L321.25,84.52 L322.30,84.87 L323.35,84.54 L324.40,85.00 L325.30,84.39 L326.20,83.80 L327.40,83.77 L328.60,83.80 L330.40,87.40 L331.30,87.02 L332.20,86.60 L333.25,86.53 L334.30,87.48 L335.35,87.51 L336.40,88.00 L337.60,87.86 L338.80,87.80 L340.60,85.40 L343.00,87.80 L344.00,87.67 L345.00,87.20 L346.00,87.00 L347.08,86.10 L348.16,86.26 L349.24,85.72 L350.32,85.00 L351.40,84.60 L352.40,85.42 L353.40,86.30 L354.40,86.80 L355.60,86.99 L356.80,87.11 L358.00,87.80 L359.20,87.91 L360.40,87.87 L361.60,87.27 L362.80,87.57 L364.00,87.40 L365.20,87.19 L366.40,87.08 L367.60,87.00 L368.80,86.68 L370.00,86.80 L371.33,86.06 L372.67,85.87 L374.00,85.00 L375.33,85.68 L376.67,86.01 L378.00,86.60 L379.33,86.09 L380.67,85.72 L382.00,85.00 L383.33,85.41 L384.67,85.64 L386.00,86.00 L387.00,85.62 L388.00,85.40 L389.33,84.92 L390.67,84.54 L392.00,84.00 L393.33,84.36 L394.67,84.88 L396.00,85.00 L397.33,84.65 L398.67,83.52 L400.00,83.60 L401.00,83.79 L402.00,84.03 L403.00,84.60 L404.00,84.02 L405.00,83.25 L406.00,82.60 L407.33,82.99 L408.67,83.11 L410.00,83.60 L411.33,83.57 L412.67,82.97 L414.00,82.60"/>
<path class="c" d="M101.00,107.80 L102.12,107.71 L103.25,107.77 L104.38,107.93 L105.50,107.78 L106.62,108.05 L107.75,107.91 L108.88,107.91 L110.00,108.00 L111.25,107.69 L112.50,107.47 L113.75,107.89 L115.00,107.60 L116.25,107.50 L117.50,107.68 L118.75,107.79 L120.00,108.00 L121.11,107.84 L122.22,108.21 L123.33,108.21 L124.44,107.88 L125.56,107.68 L126.67,108.22 L127.78,107.87 L128.89,107.61 L130.00,107.80 L131.11,107.97 L132.22,107.96 L133.33,107.83 L134.44,107.75 L135.56,107.61 L136.67,108.03 L137.78,107.75 L138.89,107.67 L140.00,107.60 L141.25,107.53 L142.50,107.97 L143.75,108.00 L145.00,108.00 L146.25,107.78 L147.50,107.75 L148.75,107.48 L150.00,107.40 L151.11,107.60 L152.22,107.31 L153.33,107.78 L154.44,107.18 L155.56,107.56 L156.67,107.50 L157.78,107.59 L158.89,107.39 L160.00,107.40 L161.25,107.38 L162.50,107.21 L163.75,107.19 L165.00,107.00 L166.25,107.10 L167.50,107.12 L168.75,107.08 L170.00,107.40 L171.11,107.46 L172.22,107.17 L173.33,107.34 L174.44,107.21 L175.56,107.06 L176.67,107.46 L177.78,107.55 L178.89,107.49 L180.00,107.20 L181.25,107.43 L182.50,107.00 L183.75,107.42 L185.00,107.60 L186.25,107.34 L187.50,107.41 L188.75,107.39 L190.00,107.20 L191.11,107.52 L192.22,107.11 L193.33,107.23 L194.44,107.44 L195.56,107.31 L196.67,107.22 L197.78,107.26 L198.89,107.28 L200.00,107.40 L201.25,107.26 L202.50,107.63 L203.75,107.56 L205.00,107.60 L206.25,107.55 L207.50,107.22 L208.75,107.21 L210.00,107.20 L211.25,107.45 L212.50,107.26 L213.75,107.29 L215.00,107.40 L216.80,106.80 L218.40,106.00 L220.00,103.80 L222.00,99.20 L224.00,94.80 L226.00,90.40 L228.00,86.40 L230.00,84.40 L231.00,83.79 L232.00,83.60 L233.00,82.82 L234.00,82.80 L235.00,83.10 L236.00,83.40 L237.07,83.63 L238.13,83.55 L239.20,83.80 L240.40,84.55 L241.60,85.20 L242.80,84.47 L244.00,84.40 L245.20,84.00 L246.00,80.80 L247.20,79.20 L248.80,78.00 L250.20,76.80 L252.40,74.20 L254.00,73.20 L255.00,72.94 L256.00,72.40 L257.20,72.32 L258.40,72.40 L259.60,71.54 L260.80,71.58 L262.00,71.40 L263.20,71.82 L264.40,71.66 L265.60,71.80 L266.65,72.10 L267.70,72.30 L268.75,72.28 L269.80,72.40 L271.40,69.40 L272.70,69.19 L274.00,69.40 L275.20,69.40 L276.40,69.04 L277.60,68.51 L278.80,68.38 L280.00,68.20 L281.20,68.17 L282.40,68.08 L283.60,67.72 L284.80,68.18 L286.00,68.20 L287.20,68.47 L288.40,67.96 L289.60,68.20 L290.80,67.72 L292.00,67.60 L293.20,67.74 L294.40,67.92 L295.60,67.74 L296.80,67.80 L298.00,68.16 L299.20,68.92 L300.40,69.00 L301.60,68.51 L302.80,69.07 L304.00,68.75 L305.20,68.60 L306.60,68.37 L308.00,68.60 L309.33,68.03 L310.67,68.22 L312.00,67.40 L313.33,68.08 L314.67,68.48 L316.00,69.00 L317.20,68.88 L318.40,68.48 L319.60,68.14 L320.80,68.22 L322.00,68.00 L323.20,68.15 L324.40,67.79 L325.60,67.76 L326.80,67.61 L328.00,67.40 L329.20,67.61 L330.40,67.31 L331.60,68.19 L332.80,68.49 L334.00,68.60 L335.20,68.71 L336.40,68.51 L337.60,68.59 L338.80,69.18 L340.00,69.00 L341.20,68.44 L342.40,68.67 L343.60,68.41 L344.80,68.12 L346.00,68.00 L347.20,67.65 L348.40,67.84 L349.60,66.71 L350.80,67.11 L352.00,66.60 L353.20,66.47 L354.40,67.66 L355.60,67.60 L356.80,67.48 L358.00,68.00 L359.33,67.56 L360.67,67.12 L362.00,66.60 L363.33,67.37 L364.67,68.19 L366.00,69.00 L367.33,68.10 L368.67,67.73 L370.00,66.60 L371.33,66.87 L372.67,67.61 L374.00,67.40 L375.33,68.09 L376.67,67.90 L378.00,68.60 L379.33,68.32 L380.67,68.44 L382.00,68.00 L383.33,67.83 L384.67,67.76 L386.00,67.40 L387.20,67.26 L388.40,67.15 L389.60,67.22 L390.80,66.90 L392.00,66.60 L393.33,66.57 L394.67,67.42 L396.00,68.00 L397.33,67.58 L398.67,66.64 L400.00,66.00 L401.33,65.79 L402.67,65.30 L404.00,64.60 L405.00,64.82 L406.00,65.00 L408.00,69.00 L410.00,66.00 L411.00,66.25 L412.00,66.71 L413.00,67.40 L414.00,66.61 L415.00,66.12 L416.00,65.40 L417.33,65.95 L418.67,66.72 L420.00,67.00 L421.00,66.76 L422.00,66.26 L423.00,66.00"/>
<path class="c" d="M101.40,90.60 L102.70,90.07 L104.00,90.20 L105.00,90.66 L106.00,90.56 L107.00,90.80 L108.33,90.69 L109.67,90.56 L111.00,90.20 L112.00,89.92 L113.00,90.47 L114.00,90.80 L115.33,91.11 L116.67,90.96 L118.00,90.40 L119.33,90.66 L120.67,90.47 L122.00,91.00 L123.33,90.77 L124.67,91.37 L126.00,90.40 L127.33,90.00 L128.67,90.49 L130.00,90.60 L131.33,90.27 L132.67,90.33 L134.00,90.20 L135.33,90.85 L136.67,90.17 L138.00,90.60 L139.33,90.71 L140.67,89.95 L142.00,90.00 L143.33,90.59 L144.67,90.14 L146.00,90.20 L147.33,90.23 L148.67,89.45 L150.00,89.80 L151.33,89.52 L152.67,89.92 L154.00,90.00 L155.33,89.67 L156.67,89.66 L158.00,89.40 L159.33,88.88 L160.67,89.72 L162.00,89.80 L163.33,89.23 L164.67,88.81 L166.00,89.20 L167.33,88.85 L168.67,88.50 L170.00,88.60 L171.00,88.62 L172.00,89.19 L173.00,89.60 L174.33,89.61 L175.67,89.36 L177.00,89.40 L178.33,89.86 L179.67,88.81 L181.00,89.00 L182.00,88.82 L183.00,89.60 L184.00,90.20 L185.00,90.74 L186.00,90.94 L187.00,91.00 L188.00,90.37 L189.00,89.68 L190.00,89.80 L191.00,89.71 L192.00,89.70 L193.00,89.60 L194.00,89.57 L195.00,89.82 L196.00,89.60 L197.33,89.75 L198.67,89.47 L200.00,89.40 L201.25,89.54 L202.50,89.55 L203.75,89.18 L205.00,89.60 L206.25,90.45 L207.50,89.52 L208.75,89.79 L210.00,90.00 L211.33,90.72 L212.67,89.94 L214.00,89.60 L216.60,88.40 L218.00,87.20 L220.00,84.20 L222.40,80.00 L224.40,76.00 L226.40,71.20 L228.00,68.00 L229.20,66.00 L230.20,66.06 L231.20,66.20 L232.60,62.80 L234.00,62.60 L235.00,63.14 L236.00,63.60 L237.20,66.40 L238.40,69.20 L239.60,65.60 L240.40,61.20 L241.60,59.60 L242.60,60.50 L243.60,61.20 L245.60,59.20 L247.20,57.60 L248.80,56.00 L250.00,55.00 L251.20,54.61 L252.40,53.85 L253.60,52.97 L254.80,52.60 L255.70,52.06 L256.60,51.80 L257.80,52.40 L259.00,53.00 L260.00,52.02 L261.00,51.44 L262.00,50.60 L263.20,50.79 L264.40,50.66 L265.60,51.00 L266.80,50.87 L268.00,50.83 L269.20,50.91 L270.40,50.80 L271.60,51.03 L272.80,50.57 L274.00,50.80 L275.20,50.24 L276.40,50.32 L277.60,49.50 L278.80,49.00 L280.00,49.13 L281.20,48.76 L282.40,48.89 L283.60,49.00 L284.80,48.90 L286.00,49.48 L287.20,49.75 L288.40,49.60 L289.60,50.07 L290.80,49.99 L292.00,49.79 L293.20,49.80 L294.40,50.04 L295.60,49.51 L296.80,49.17 L298.00,49.00 L299.20,48.90 L300.40,48.75 L301.60,48.62 L302.80,48.77 L304.00,48.60 L305.20,48.62 L306.40,48.68 L307.60,48.51 L308.80,48.08 L310.00,48.20 L311.33,48.12 L312.67,47.85 L314.00,47.60 L315.18,47.71 L316.36,47.74 L317.54,47.76 L318.73,47.82 L319.91,47.56 L321.09,47.72 L322.27,47.95 L323.45,47.80 L323.80,44.30 L324.15,47.80 L325.29,48.21 L326.43,47.99 L327.57,47.79 L328.71,47.85 L329.84,47.75 L330.98,47.62 L332.12,47.76 L333.26,47.39 L334.40,47.60 L334.80,43.60 L336.00,43.62 L337.20,43.54 L338.40,43.79 L339.60,43.48 L340.80,43.81 L342.00,43.60 L342.30,48.00 L343.60,48.00 L344.00,43.60 L345.10,43.61 L346.20,43.60 L346.60,48.00 L347.73,47.43 L348.87,47.44 L350.00,46.60 L351.33,46.68 L352.67,46.81 L354.00,47.00 L355.00,47.24 L356.00,47.60 L357.00,46.82 L358.00,45.99 L359.00,45.00 L360.00,46.18 L361.00,46.23 L362.00,46.60 L363.33,45.73 L364.67,45.17 L366.00,44.60 L367.33,44.88 L368.67,45.87 L370.00,46.60 L371.33,46.89 L372.67,47.32 L374.00,47.40 L375.33,47.04 L376.67,47.08 L378.00,46.60 L379.33,46.09 L380.67,45.45 L382.00,44.60 L383.00,45.26 L384.00,45.21 L385.00,46.00 L386.00,45.87 L387.00,46.02 L388.00,46.00 L389.33,45.93 L390.67,45.71 L392.00,45.00 L393.33,45.29 L394.67,46.58 L396.00,46.60 L397.33,46.41 L398.67,46.41 L400.00,46.00 L401.33,46.37 L402.67,46.35 L404.00,46.60 L405.20,46.84 L406.40,46.79 L407.60,46.60"/>
<path class="c" d="M101.40,73.40 L102.70,73.46 L104.00,73.60 L105.33,73.72 L106.67,73.74 L108.00,73.40 L109.33,73.09 L110.67,74.36 L112.00,74.20 L113.00,73.80 L114.00,74.83 L115.00,75.00 L116.00,74.95 L117.00,74.10 L118.00,73.80 L119.33,73.54 L120.67,73.68 L122.00,73.40 L123.33,72.96 L124.67,73.10 L126.00,73.60 L127.33,73.71 L128.67,74.07 L130.00,74.40 L131.00,73.87 L132.00,73.56 L133.00,73.60 L134.33,73.75 L135.67,74.24 L137.00,73.80 L138.00,74.22 L139.00,73.39 L140.00,73.20 L141.33,74.06 L142.67,73.40 L144.00,73.80 L145.33,73.99 L146.67,73.33 L148.00,73.40 L149.33,73.59 L150.67,74.04 L152.00,73.80 L153.33,73.46 L154.67,73.56 L156.00,73.20 L157.25,73.77 L158.50,72.81 L159.75,73.10 L161.00,73.00 L162.00,72.24 L163.00,71.95 L164.00,72.40 L165.00,72.65 L166.00,72.63 L167.00,73.20 L168.33,73.09 L169.67,73.76 L171.00,73.60 L172.33,73.19 L173.67,73.20 L175.00,73.20 L176.33,72.81 L177.67,72.61 L179.00,72.80 L180.33,72.97 L181.67,73.67 L183.00,73.40 L184.33,73.58 L185.67,73.00 L187.00,73.00 L188.33,73.01 L189.67,73.40 L191.00,73.40 L192.33,72.99 L193.67,74.03 L195.00,73.60 L196.25,73.54 L197.50,73.49 L198.75,73.03 L200.00,73.00 L201.33,72.67 L202.67,72.15 L204.00,72.60 L205.33,73.21 L206.67,72.61 L208.00,72.40 L209.00,72.08 L210.00,72.65 L211.00,73.00 L212.00,72.62 L213.00,72.65 L214.00,73.00 L215.30,72.59 L216.60,72.60 L218.40,69.60 L220.00,65.60 L221.60,60.80 L223.20,57.20 L224.60,54.80 L225.80,54.04 L227.00,53.40 L228.20,53.40 L229.40,53.20 L231.00,52.20 L232.00,52.51 L233.00,52.80 L234.20,55.60 L235.00,56.80 L236.00,56.40 L236.60,53.20 L237.80,51.20 L239.00,48.00 L240.20,44.80 L241.40,43.60 L242.60,42.65 L243.80,41.60 L244.80,40.98 L245.80,40.40 L246.80,40.39 L247.80,39.60 L249.40,38.40 L250.60,38.17 L251.80,38.20 L253.40,37.40 L254.60,37.20"/>
<path class="a" d="M112.40,298.0 V293.2 M112.40,20.7 V25.5 M157.15,298.0 V293.2 M157.15,20.7 V25.5 M201.90,298.0 V293.2 M201.90,20.7 V25.5 M246.65,298.0 V293.2 M246.65,20.7 V25.5 M291.40,298.0 V293.2 M291.40,20.7 V25.5 M336.15,298.0 V293.2 M336.15,20.7 V25.5 M380.90,298.0 V293.2 M380.90,20.7 V25.5 M425.65,298.0 V293.2 M425.65,20.7 V25.5 M67.65,263.34 H72.45 M470.4,263.34 H465.59999999999997 M67.65,228.68 H72.45 M470.4,228.68 H465.59999999999997 M67.65,194.01 H72.45 M470.4,194.01 H465.59999999999997 M67.65,159.35 H72.45 M470.4,159.35 H465.59999999999997 M67.65,124.69 H72.45 M470.4,124.69 H465.59999999999997 M67.65,90.02 H72.45 M470.4,90.02 H465.59999999999997 M67.65,55.36 H72.45 M470.4,55.36 H465.59999999999997"/>
<rect class="a" x="67.65" y="20.7" width="402.75" height="277.3"/>
<g style="opacity:0.999">
<text transform="translate(67.65,321.3) scale(1,1.1)" text-anchor="middle">-15</text>
<text transform="translate(112.40,321.3) scale(1,1.1)" text-anchor="middle">-10</text>
<text transform="translate(157.15,321.3) scale(1,1.1)" text-anchor="middle">-5</text>
<text transform="translate(201.90,321.3) scale(1,1.1)" text-anchor="middle">0</text>
<text transform="translate(246.65,321.3) scale(1,1.1)" text-anchor="middle">5</text>
<text transform="translate(291.40,321.3) scale(1,1.1)" text-anchor="middle">10</text>
<text transform="translate(336.15,321.3) scale(1,1.1)" text-anchor="middle">15</text>
<text transform="translate(380.90,321.3) scale(1,1.1)" text-anchor="middle">20</text>
<text transform="translate(425.65,321.3) scale(1,1.1)" text-anchor="middle">25</text>
<text transform="translate(470.40,321.3) scale(1,1.1)" text-anchor="middle">30</text>
<text transform="translate(57.1,304.30) scale(1,1.1)" text-anchor="end">-1</text>
<text transform="translate(57.1,269.64) scale(1,1.1)" text-anchor="end">0</text>
<text transform="translate(57.1,234.98) scale(1,1.1)" text-anchor="end">1</text>
<text transform="translate(57.1,200.31) scale(1,1.1)" text-anchor="end">2</text>
<text transform="translate(57.1,165.65) scale(1,1.1)" text-anchor="end">3</text>
<text transform="translate(57.1,130.99) scale(1,1.1)" text-anchor="end">4</text>
<text transform="translate(57.1,96.32) scale(1,1.1)" text-anchor="end">5</text>
<text transform="translate(57.1,61.66) scale(1,1.1)" text-anchor="end">6</text>
<text transform="translate(57.1,27.00) scale(1,1.1)" text-anchor="end">7</text>
<text transform="translate(269,346.7) scale(1,1.1)" text-anchor="middle">time after start of laser drive (ns)</text>
<text transform="translate(23.2,159.5) rotate(-90) scale(1,1.1)" text-anchor="middle">free surface velocity (km/s)</text>
</g>
</svg>
</body></html>
